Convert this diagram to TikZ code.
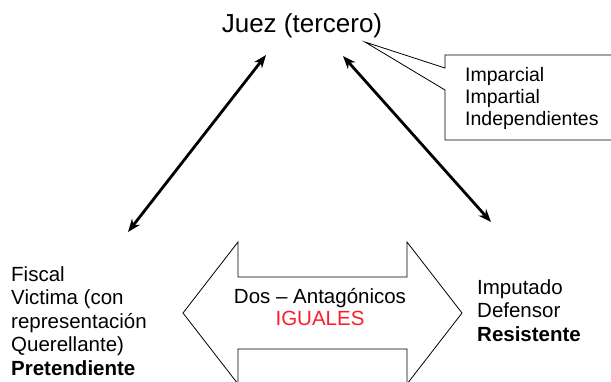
\documentclass[tikz,border=0pt]{standalone}
\usepackage{fontspec}
\setmainfont{Liberation Sans}
\usetikzlibrary{arrows.meta,positioning}
\definecolor{rojo}{RGB}{250,30,45}
\begin{document}
\begin{tikzpicture}[x=1pt,y=-1pt,
        texto/.style={align=left, inner sep=0pt, anchor=north west,
                      font=\fontsize{20.5}{23.5}\selectfont},
        flecha/.style={line width=2.8pt,
                       {Stealth[length=13pt,width=10pt]}-{Stealth[length=13pt,width=10pt]}},
        borde/.style={line width=0.8pt, line join=miter}]
    \useasboundingbox (0,0) rectangle (611,381);

    \node[inner sep=0pt, font=\fontsize{26}{30}\selectfont] (juez) at (302,26) {Juez (tercero)};

    % nota sobre el juez
    \coordinate (punta) at (365,42);
    \draw[borde] (620,55) -- (445,55) -- (445,68) -- (punta) -- (445,90) -- (445,140) -- (620,140);
    \node[texto, font=\fontsize{19.5}{22}\selectfont] (rasgos) at (465,67)
        {Imparcial\\Impartial\\Independientes};

    \node[texto] (fiscal) at (11,266)
        {Fiscal\\Victima (con\\representación\\Querellante)\\\textbf{Pretendiente}};
    \node[texto] (imputado) at (477,279)
        {Imputado\\Defensor\\\textbf{Resistente}};

    % flechas al juez
    \coordinate (f1) at (128,232);
    \coordinate (j1) at (266,55);
    \coordinate (j2) at (343,56);
    \coordinate (i1) at (491,222);
    \draw[flecha] (f1) -- (j1);
    \draw[flecha] (j2) -- (i1);

    % flecha doble entre las partes
    \draw[borde] (183,313) -- (238,242) -- (238,277) -- (407,277) -- (407,242) -- (462,313)
        -- (407,384) -- (407,349) -- (238,349) -- (238,384) -- cycle;
    \node[align=center, inner sep=0pt, font=\fontsize{20.5}{22}\selectfont] (partes) at (320,307)
        {Dos -- Antagónicos\\\textcolor{rojo}{IGUALES}};
\end{tikzpicture}
\end{document}
